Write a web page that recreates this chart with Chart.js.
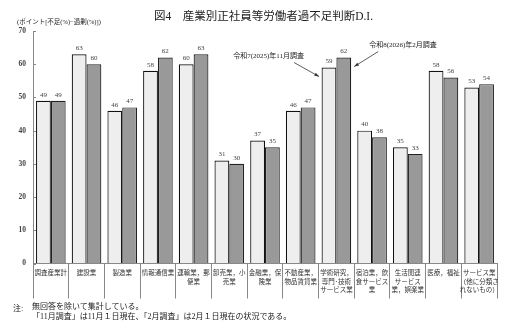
<!DOCTYPE html>
<html>
<head>
<meta charset="utf-8">
<script src="https://cdn.jsdelivr.net/npm/chart.js@4.4.0/dist/chart.umd.min.js"></script>
<style>
  body { margin: 0; background: #fff; }
  #wrap { position: relative; width: 519px; height: 336px; }
  canvas { position: absolute; left: 0; top: 0; }
  .t { position: absolute; white-space: nowrap; color: #222; font-family: "Liberation Serif", "Noto Sans CJK JP", serif; }
</style>
</head>
<body>
<div id="wrap">
  <canvas id="c" width="519" height="336"></canvas>
  <div class="t" style="left:0;width:527px;text-align:center;top:7px;font-size:11.5px">図4　産業別正社員等労働者過不足判断D.I.</div>
  <div class="t" style="left:17px;top:16px;font-size:6.5px">(ポイント[不足(%)−過剰(%)])</div>
  <div class="t" style="left:13px;top:302px;font-size:8px">注:</div>
  <div class="t" style="left:32px;top:302px;font-size:8px;line-height:10px">無回答を除いて集計している。<br>「11月調査」は11月１日現在、「2月調査」は2月１日現在の状況である。</div>
</div>
<script>
const categories = [
  '調査産業計',
  '建設業',
  '製造業',
  '情報通信業',
  ['運輸業，郵', '便業'],
  ['卸売業，小', '売業'],
  ['金融業，保', '険業'],
  ['不動産業，', '物品賃貸業'],
  ['学術研究，', '専門･技術', 'サービス業'],
  ['宿泊業，飲', '食サービス', '業'],
  ['生活関連', 'サービス', '業，娯楽業'],
  '医療，福祉',
  ['サービス業', '（他に分類さ', 'れないもの）'],
];
const nov2025 = [49, 63, 46, 58, 60, 31, 37, 46, 59, 40, 35, 58, 53];
const feb2026 = [49, 60, 47, 62, 63, 30, 35, 47, 62, 38, 33, 56, 54];
const seriesNames = ['令和7(2025)年11月調査', '令和8(2026)年2月調査'];
const yMin = 0, yMax = 70, yStep = 10;
const pointerIndex = 8; // 学術研究 bars carry the series callouts

// value labels over the bars, inner tick marks, callout arrows
const extras = {
  id: 'extras',
  afterDatasetsDraw(chart) {
    const ctx = chart.ctx;
    ctx.save();
    ctx.font = '7px "Liberation Serif", serif';
    ctx.fillStyle = '#444';
    ctx.textAlign = 'center';
    ctx.textBaseline = 'bottom';
    chart.data.datasets.forEach((ds, i) => {
      chart.getDatasetMeta(i).data.forEach((bar, j) => {
        ctx.fillText(ds.data[j], bar.x, bar.y - 2.5);
      });
    });

    const y = chart.scales.y;
    ctx.strokeStyle = '#888';
    ctx.lineWidth = 1;
    for (let v = yMin; v <= yMax; v += yStep) {
      const py = Math.round(y.getPixelForValue(v)) + 0.5;
      ctx.beginPath();
      ctx.moveTo(y.right, py);
      ctx.lineTo(y.right + 3, py);
      ctx.stroke();
    }

    const arrow = (x1, y1, x2, y2) => {
      ctx.strokeStyle = '#333';
      ctx.fillStyle = '#333';
      ctx.lineWidth = 0.8;
      ctx.beginPath();
      ctx.moveTo(x1, y1);
      ctx.lineTo(x2, y2);
      ctx.stroke();
      const a = Math.atan2(y2 - y1, x2 - x1);
      ctx.beginPath();
      ctx.moveTo(x2, y2);
      ctx.lineTo(x2 - 5 * Math.cos(a - 0.35), y2 - 5 * Math.sin(a - 0.35));
      ctx.lineTo(x2 - 5 * Math.cos(a + 0.35), y2 - 5 * Math.sin(a + 0.35));
      ctx.closePath();
      ctx.fill();
    };
    ctx.font = '7px "Liberation Serif", "Noto Sans CJK JP", serif';
    ctx.textBaseline = 'middle';

    const b0 = chart.getDatasetMeta(0).data[pointerIndex];
    const t0x = b0.x - b0.width / 2 - 2.5, t0y = b0.y + 9;
    arrow(t0x - 25, t0y - 14, t0x, t0y);
    ctx.fillStyle = '#222';
    ctx.textAlign = 'right';
    ctx.fillText(seriesNames[0], t0x - 15, t0y - 20);

    const b1 = chart.getDatasetMeta(1).data[pointerIndex];
    const t1x = b1.x + b1.width / 2 + 3, t1y = b1.y + 9;
    arrow(t1x + 24, t1y - 15, t1x, t1y);
    ctx.fillStyle = '#222';
    ctx.textAlign = 'left';
    ctx.fillText(seriesNames[1], t1x + 15, t1y - 21);
    ctx.restore();
  }
};

new Chart(document.getElementById('c'), {
  type: 'bar',
  data: {
    labels: categories,
    datasets: [
      {
        label: seriesNames[0],
        data: nov2025,
        backgroundColor: '#eeeeee',
        borderColor: '#111',
        borderWidth: 1.2,
        categoryPercentage: 0.83,
        barPercentage: 1.0,
      },
      {
        label: seriesNames[1],
        data: feb2026,
        backgroundColor: '#999999',
        borderColor: '#222',
        borderWidth: 1.2,
        categoryPercentage: 0.83,
        barPercentage: 1.0,
      },
    ],
  },
  options: {
    responsive: false,
    animation: false,
    layout: { padding: { top: 31, right: 22, left: 0, bottom: 0 } },
    plugins: {
      legend: { display: false },
      tooltip: { enabled: false },
    },
    scales: {
      x: {
        border: { color: '#888', width: 1 },
        grid: {
          drawOnChartArea: false,
          drawTicks: true,
          tickLength: 35,
          color: '#888',
          offset: true,
        },
        ticks: {
          autoSkip: false,
          maxRotation: 0,
          minRotation: 0,
          padding: -30.5,
          color: '#333',
          font: { family: '"Noto Sans CJK JP", sans-serif', size: 6.5, lineHeight: 1.35 },
        },
        afterFit(scale) { scale.height = 72.5; },
      },
      y: {
        min: yMin,
        max: yMax,
        border: { color: '#888', width: 1 },
        grid: { drawOnChartArea: false, drawTicks: false },
        ticks: {
          stepSize: yStep,
          padding: 7,
          color: '#444',
          font: { family: '"Liberation Serif", serif', size: 7.5, weight: 'bold' },
        },
        afterFit(scale) { scale.width = 33; },
      },
    },
  },
  plugins: [extras],
});
</script>
</body>
</html>
